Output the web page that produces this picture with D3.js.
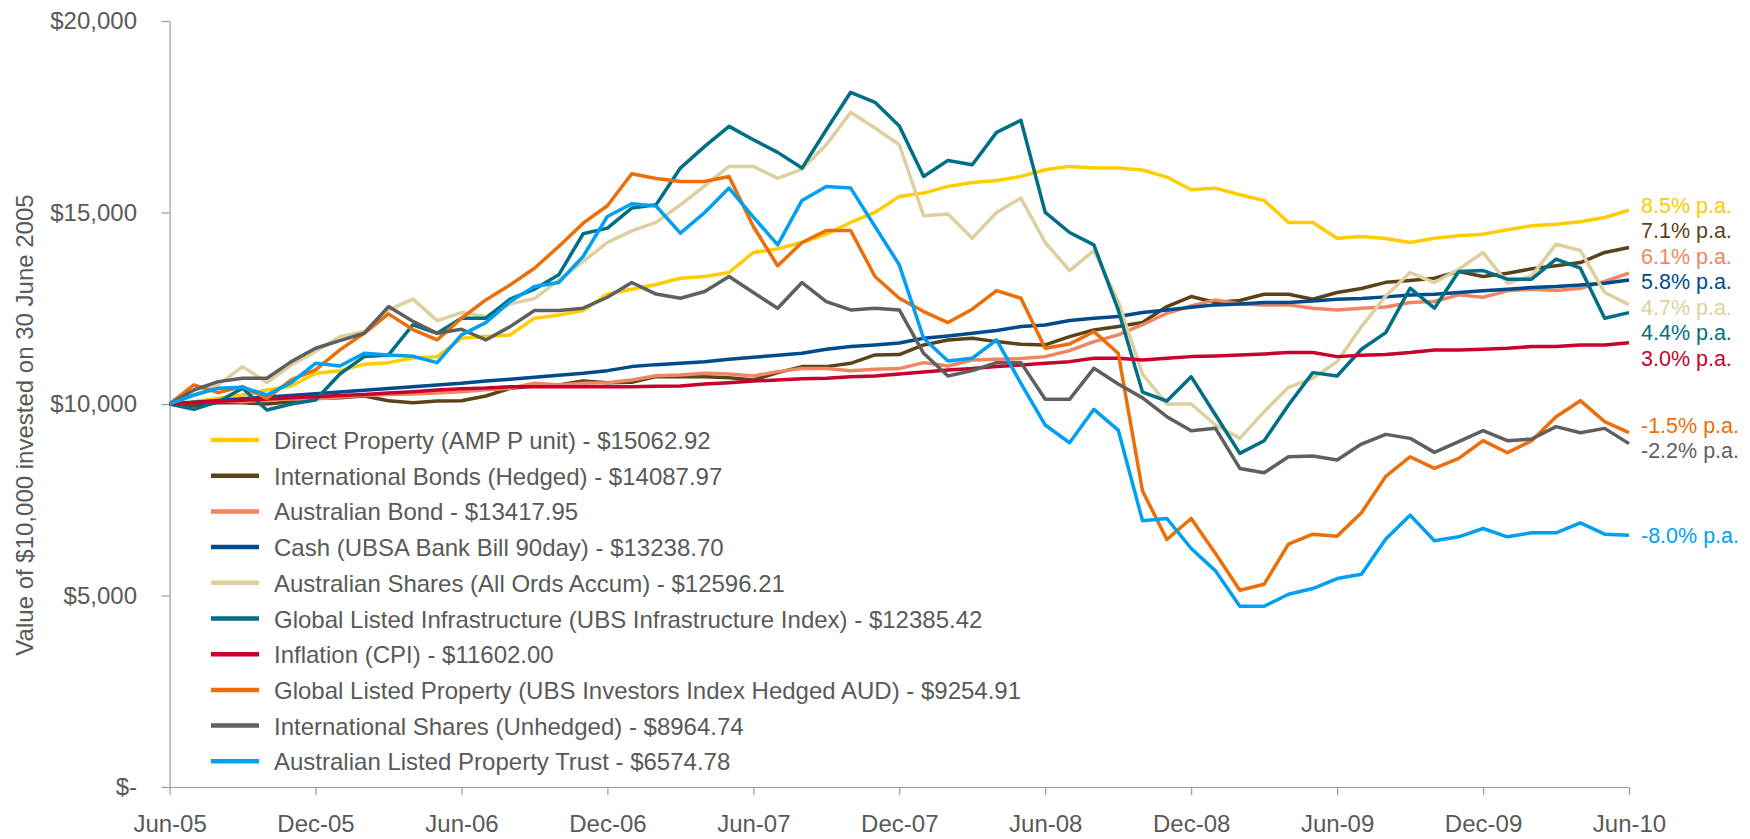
<!DOCTYPE html>
<html>
<head>
<meta charset="utf-8">
<script src="https://cdn.jsdelivr.net/npm/d3@7"></script>
<style>
  html, body { margin: 0; padding: 0; background: #ffffff; }
  svg { display: block; }
  text { font-family: "Liberation Sans", Arial, Helvetica, sans-serif; }
</style>
</head>
<body>
<svg id="chart" width="1750" height="839"></svg>
<script>
// ---------------- DATA ----------------
const months = d3.range(61); // Jun-05 .. Jun-10, monthly
const xTickLabels = ["Jun-05","Dec-05","Jun-06","Dec-06","Jun-07","Dec-07","Jun-08","Dec-08","Jun-09","Dec-09","Jun-10"];
const yTickValues = [0, 5000, 10000, 15000, 20000];

const seriesNames = [
  "Direct Property (AMP P unit) - $15062.92",
  "International Bonds (Hedged) - $14087.97",
  "Australian Bond - $13417.95",
  "Cash (UBSA Bank Bill 90day) - $13238.70",
  "Australian Shares (All Ords Accum) - $12596.21",
  "Global Listed Infrastructure (UBS Infrastructure Index) - $12385.42",
  "Inflation (CPI) - $11602.00",
  "Global Listed Property (UBS Investors Index Hedged AUD) - $9254.91",
  "International Shares (Unhedged) - $8964.74",
  "Australian Listed Property Trust - $6574.78"
];
const seriesColors = ["#FFCC00","#5C4219","#F08562","#004B8D","#DDD09E","#006F86","#C8002F","#EB6E08","#5F5F5F","#00A0F0"];
const endLabels = ["8.5% p.a.","7.1% p.a.","6.1% p.a.","5.8% p.a.","4.7% p.a.","4.4% p.a.","3.0% p.a.","-1.5% p.a.","-2.2% p.a.","-8.0% p.a."];

const directProperty = [10000,10060,10150,10235,10365,10470,10800,10870,11035,11080,11200,
  11237,11716,11760,11804,12239,12326,12440,12867,12997,13120,
  13285,13328,13433,13956,14052,14217,14435,14740,15001,15420,
  15507,15681,15785,15838,15942,16117,16204,16160,16160,16110,
  15925,15594,15637,15463,15315,14740,14740,14330,14374,14320,
  14217,14330,14391,14435,14548,14653,14696,14757,14870,15063];
const intlBonds = [10000,9956,10035,10035,10000,10061,10148,10166,10209,10087,10035,
  10078,10087,10209,10410,10470,10497,10601,10558,10566,10714,
  10714,10714,10688,10627,10819,10976,10976,11063,11281,11290,
  11542,11673,11716,11629,11560,11542,11760,11934,12021,12126,
  12544,12806,12649,12701,12867,12867,12736,12910,13015,13176,
  13224,13285,13459,13328,13415,13529,13607,13694,13956,14088];
const ausBond = [10000,10040,10080,10060,10100,10140,10130,10180,10220,10250,10261,
  10290,10322,10370,10410,10540,10497,10540,10557,10627,10740,
  10758,10802,10784,10732,10845,10924,10924,10871,10906,10924,
  11080,10993,11150,11168,11185,11237,11394,11629,11804,12070,
  12370,12562,12718,12614,12588,12588,12501,12457,12501,12535,
  12649,12675,12849,12788,12954,12997,12962,13023,13198,13418];
const cash = [10000,10045,10090,10135,10180,10225,10270,10315,10360,10405,10453,
  10497,10540,10601,10645,10697,10749,10802,10871,10976,11028,
  11063,11106,11168,11220,11272,11324,11429,11499,11542,11595,
  11716,11777,11847,11917,12021,12065,12178,12239,12283,12390,
  12457,12527,12588,12614,12649,12649,12692,12736,12753,12797,
  12849,12867,12910,12954,12997,13041,13067,13110,13154,13239];
const ausShares = [10000,10235,10497,10976,10558,11019,11368,11760,11891,12457,12740,
  12178,12387,12283,12614,12753,13241,13720,14217,14522,14740,
  15202,15698,16204,16204,15890,16134,16770,17615,17206,16770,
  14914,14958,14330,15001,15376,14217,13485,14008,12675,10780,
  10000,10000,9451,9103,9800,10436,10671,11106,12021,12820,
  13433,13172,13520,13956,13154,13346,14174,14008,12910,12596];
const globalInfra = [10000,9861,10061,10410,9843,10000,10105,10784,11237,11281,12065,
  11847,12239,12239,12736,12997,13372,14444,14592,15115,15202,
  16160,16726,17249,16901,16570,16160,17162,18138,17877,17258,
  15942,16360,16247,17092,17406,15001,14478,14156,12457,10310,
  10078,10714,9712,8710,9042,9974,10819,10732,11429,11865,
  13023,12501,13459,13485,13259,13259,13781,13546,12239,12385];
const inflation = [10000,10040,10070,10100,10130,10160,10190,10220,10250,10290,10322,
  10366,10400,10418,10453,10453,10453,10453,10453,10453,10462,
  10470,10523,10558,10601,10627,10662,10671,10714,10732,10784,
  10836,10889,10924,10976,11019,11063,11106,11194,11194,11150,
  11194,11237,11255,11281,11307,11342,11342,11237,11272,11290,
  11342,11412,11412,11429,11455,11499,11499,11542,11542,11602];
const globalProperty = [10000,10497,10296,10453,10148,10627,10889,11412,11847,12353,11943,
  11673,12239,12718,13110,13546,14113,14722,15175,16012,15890,
  15812,15812,15942,14635,13607,14217,14531,14531,13328,12762,
  12414,12126,12475,12962,12762,11455,11568,11891,11324,7730,
  6463,7011,6097,5138,5295,6341,6602,6550,7160,8110,
  8623,8318,8580,9042,8728,9042,9669,10087,9538,9255];
const intlShares = [10000,10366,10584,10671,10671,11106,11455,11655,11847,12544,12160,
  11847,11952,11673,12021,12440,12440,12501,12788,13172,12870,
  12762,12936,13328,12910,12501,13172,12675,12457,12501,12457,
  11324,10732,10871,11080,11080,10122,10122,10932,10523,10160,
  9669,9303,9364,8318,8205,8623,8641,8536,8954,9207,
  9103,8737,9015,9303,9042,9085,9408,9251,9364,8965];
const alpt = [10000,10235,10410,10436,10235,10558,11063,10993,11324,11281,11246,
  11080,11804,12126,12675,13067,13172,13851,14897,15228,15170,
  14461,15001,15637,14879,14156,15315,15681,15637,14635,13633,
  11716,11124,11194,11673,10540,9451,8989,9861,9320,6950,
  7011,6227,5643,4720,4720,5034,5182,5443,5556,6476,
  7098,6428,6532,6750,6532,6637,6637,6898,6602,6575];

const seriesValues = [directProperty,intlBonds,ausBond,cash,ausShares,globalInfra,inflation,globalProperty,intlShares,alpt];

// ---------------- LAYOUT ----------------
const svg = d3.select("#chart");
const textColor = "#595959";
const axisColor = "#9A9A9A";
const plotLeft = 169.6, plotRight = 1629, plotTop = 21, plotBottom = 787;

const x = d3.scaleLinear().domain([0, 60]).range([plotLeft, plotRight]);
const y = d3.scaleLinear().domain([0, 20000]).range([plotBottom, plotTop]);

// Y axis
const yAxis = svg.append("g")
  .attr("transform", `translate(${plotLeft},0)`)
  .call(d3.axisLeft(y).tickValues(yTickValues).tickSize(8).tickSizeOuter(0).tickPadding(24.6)
    .tickFormat(d => d === 0 ? "$-" : "$" + d3.format(",")(d)));
yAxis.selectAll("path,line").attr("stroke", axisColor).attr("stroke-width", 1.2);
yAxis.selectAll("text").attr("fill", textColor).style("font-size", "24px")
  .style("font-family", '"Liberation Sans", Arial, sans-serif');

// X axis
const xAxis = svg.append("g")
  .attr("transform", `translate(0,${plotBottom})`)
  .call(d3.axisBottom(x).tickValues(d3.range(0, 61, 6)).tickSize(8).tickSizeOuter(0)
    .tickFormat((d, i) => xTickLabels[i]));
xAxis.selectAll("path,line").attr("stroke", axisColor).attr("stroke-width", 1.2);
xAxis.selectAll("text").attr("fill", textColor).style("font-size", "24px")
  .style("font-family", '"Liberation Sans", Arial, sans-serif')
  .attr("y", 44.5).attr("dy", 0);

// Y axis title
svg.append("text")
  .attr("transform", "translate(33,425) rotate(-90)")
  .attr("text-anchor", "middle")
  .attr("fill", textColor)
  .style("font-size", "24px")
  .text("Value of $10,000 invested on 30 June 2005");

// Lines
const line = d3.line().x((d, i) => x(months[i])).y(d => y(d));
svg.append("g").selectAll("path")
  .data(seriesValues)
  .join("path")
  .attr("d", d => line(d))
  .attr("fill", "none")
  .attr("stroke", (d, i) => seriesColors[i])
  .attr("stroke-width", 3.5)
  .attr("stroke-linejoin", "round")
  .attr("stroke-linecap", "butt");

// End labels with simple dodge
const labelNodes = seriesValues.map((v, i) => ({ i, target: y(v[v.length - 1]), pos: y(v[v.length - 1]) }));
labelNodes.sort((a, b) => a.target - b.target);
const gap = 25.5;
let clusters = labelNodes.map(n => ({ nodes: [n] }));
function place(c) {
  const n = c.nodes.length;
  const m = d3.mean(c.nodes, d => d.target);
  c.start = m - (n - 1) * gap / 2;
}
clusters.forEach(place);
let changed = true;
while (changed) {
  changed = false;
  for (let k = 0; k < clusters.length - 1; k++) {
    const a = clusters[k], b = clusters[k + 1];
    const aEnd = a.start + (a.nodes.length - 1) * gap;
    if (b.start - aEnd < gap) {
      a.nodes = a.nodes.concat(b.nodes);
      place(a);
      clusters.splice(k + 1, 1);
      changed = true;
      break;
    }
  }
}
clusters.forEach(c => c.nodes.forEach((n, j) => n.pos = c.start + j * gap));

svg.append("g").selectAll("text")
  .data(labelNodes)
  .join("text")
  .attr("x", plotRight + 12)
  .attr("y", d => d.pos)
  .attr("dy", "0.35em")
  .attr("fill", d => seriesColors[d.i])
  .style("font-size", "21.5px")
  .text(d => endLabels[d.i]);

// Legend
const legendX = 211, legendY = 440, legendStep = 35.7;
const legend = svg.append("g");
const rows = legend.selectAll("g").data(seriesNames).join("g")
  .attr("transform", (d, i) => `translate(${legendX},${legendY + i * legendStep})`);
rows.append("line")
  .attr("x1", 0).attr("x2", 48).attr("y1", 0).attr("y2", 0)
  .attr("stroke", (d, i) => seriesColors[i]).attr("stroke-width", 4.5);
rows.append("text")
  .attr("x", 63).attr("y", 9)
  .attr("fill", textColor)
  .style("font-size", "24px")
  .text(d => d);
</script>
</body>
</html>
